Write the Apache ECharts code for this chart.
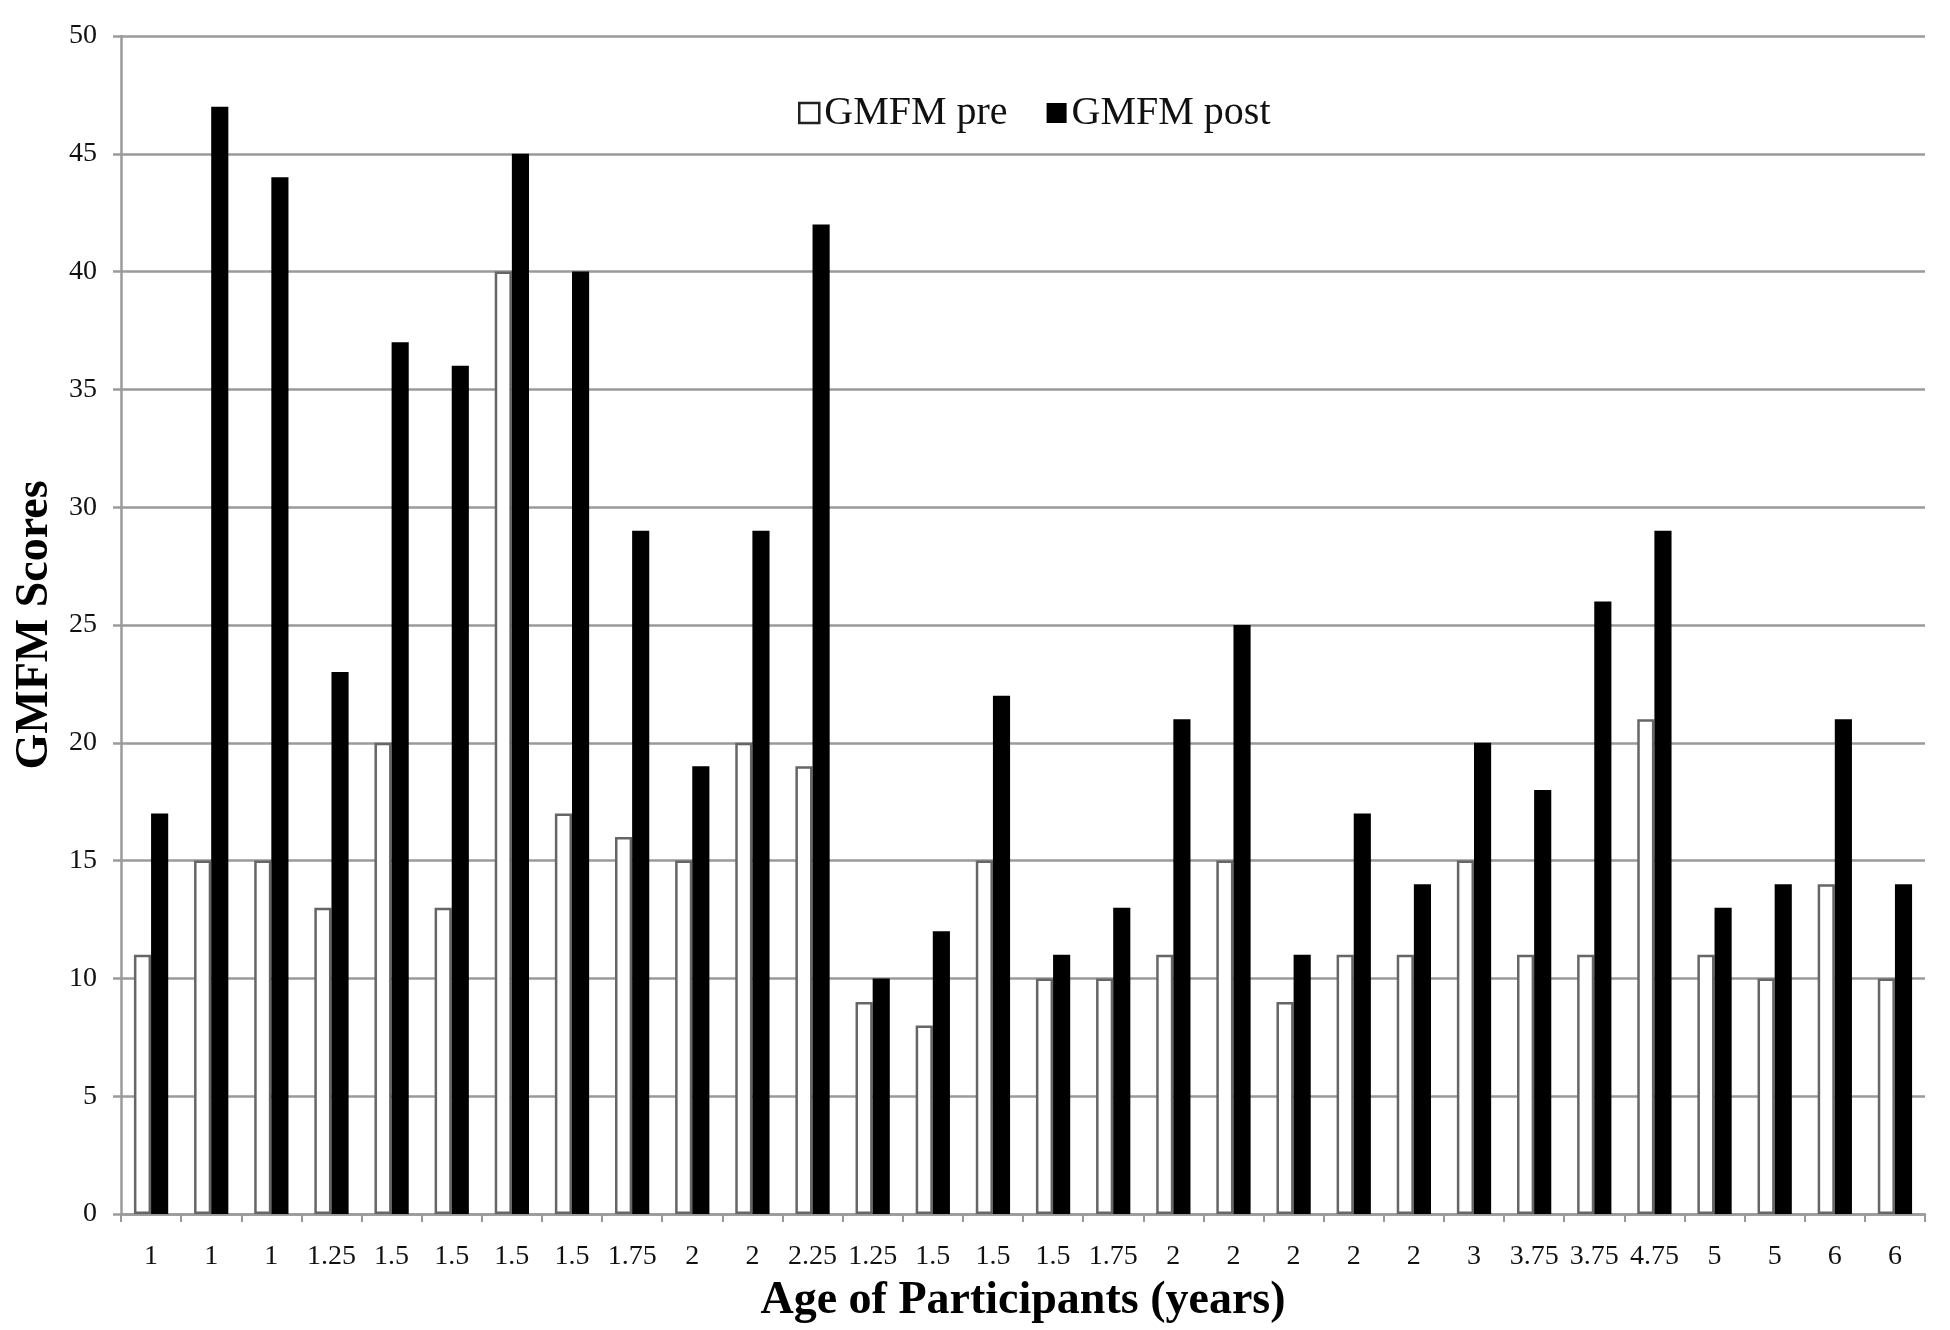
<!DOCTYPE html>
<html>
<head>
<meta charset="utf-8">
<script src="https://cdn.jsdelivr.net/npm/echarts@6/dist/echarts.min.js"></script>
<style>
  html, body { margin: 0; padding: 0; background: #fff; }
  #chart { width: 1950px; height: 1330px; }
</style>
</head>
<body>
<div id="chart"></div>
<script>
// ages of participants (x axis categories)
const ages = ['1', '1', '1', '1.25', '1.5', '1.5', '1.5', '1.5', '1.75', '2', '2', '2.25',
  '1.25', '1.5', '1.5', '1.5', '1.75', '2', '2', '2', '2', '2', '3', '3.75', '3.75', '4.75',
  '5', '5', '6', '6']
const gmfmPre = [11, 15, 15, 13, 20, 13, 40, 17, 16, 15, 20, 19,
  9, 8, 15, 10, 10, 11, 15, 9, 11, 11, 15, 11, 11, 21,
  11, 10, 14, 10]
const gmfmPost = [17, 47, 44, 23, 37, 36, 45, 40, 29, 19, 29, 42,
  10, 12, 22, 11, 13, 21, 25, 11, 17, 14, 20, 18, 26, 29,
  13, 14, 21, 14]
const yTicks = [0, 50, 5] // min, max, interval

const font = 'Liberation Serif, Times New Roman, serif'
const gray = '#9a9a9a'

const chart = echarts.init(document.getElementById('chart'))

const option = {
  animation: false,
  backgroundColor: '#fff',
  textStyle: { fontFamily: font },
  legend: {
    left: 793,
    top: 88,
    itemWidth: 20,
    itemHeight: 20,
    itemGap: 39,
    textStyle: { fontFamily: font, fontSize: 40, color: '#111' },
    data: [
      { name: 'GMFM pre', icon: 'rect', itemStyle: { color: '#fff', borderColor: '#222', borderWidth: 2.5 } },
      { name: 'GMFM post', icon: 'rect', itemStyle: { color: '#000', borderWidth: 0 } }
    ]
  },
  grid: {
    left: 121,
    right: 25,
    top: 36,
    bottom: 116,
    containLabel: false,
    outerBoundsMode: 'none'
  },
  xAxis: {
    type: 'category',
    data: ages,
    name: 'Age of Participants (years)',
    nameLocation: 'middle',
    nameGap: 64,
    nameTextStyle: { fontFamily: font, fontSize: 46, fontWeight: 'bold', color: '#000' },
    axisLine: { lineStyle: { color: gray, width: 2.5 } },
    axisTick: { show: true, length: 8, lineStyle: { color: gray, width: 2 } },
    axisLabel: { interval: 0, margin: 29, fontFamily: font, fontSize: 28, color: '#111' },
    splitLine: { show: false }
  },
  yAxis: {
    type: 'value',
    min: yTicks[0],
    max: yTicks[1],
    interval: yTicks[2],
    name: 'GMFM Scores',
    nameLocation: 'middle',
    nameGap: 62,
    nameTextStyle: { fontFamily: font, fontSize: 46, fontWeight: 'bold', color: '#000' },
    axisLine: { show: true, lineStyle: { color: gray, width: 2.5 } },
    axisTick: { show: true, length: 8, lineStyle: { color: gray, width: 2.5 } },
    axisLabel: { margin: 24, fontFamily: font, fontSize: 28, color: '#111' },
    splitLine: { show: true, lineStyle: { color: gray, width: 2.5 } }
  },
  series: [
    {
      name: 'GMFM pre',
      type: 'bar',
      data: gmfmPre,
      barGap: '0%',
      barCategoryGap: '43%',
      itemStyle: { color: '#fff', borderColor: '#666', borderWidth: 2.5 }
    },
    {
      name: 'GMFM post',
      type: 'bar',
      data: gmfmPost,
      itemStyle: { color: '#000' }
    }
  ]
}

chart.setOption(option)
</script>
</body>
</html>
